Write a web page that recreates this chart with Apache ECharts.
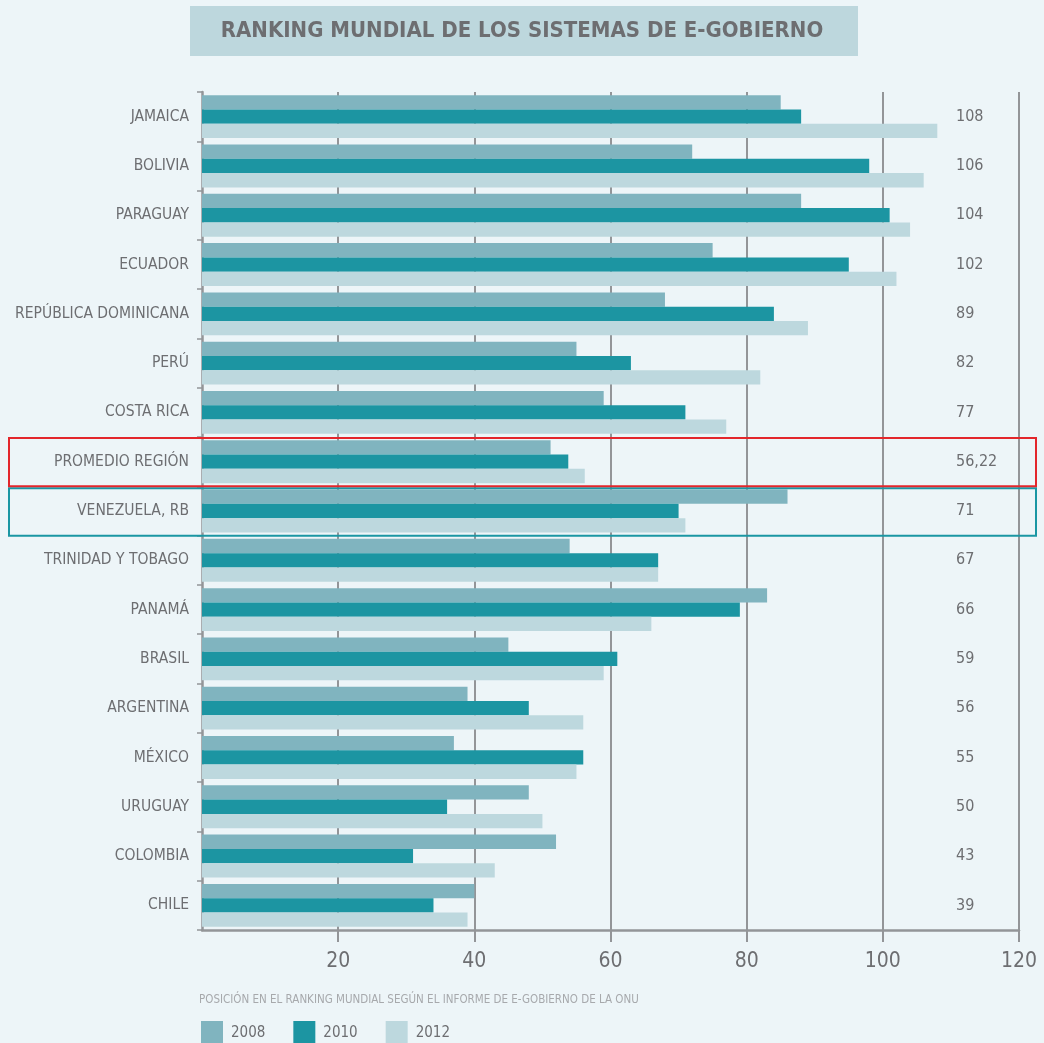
<!DOCTYPE html>
<html>
<head>
<meta charset="utf-8">
<title>Ranking mundial de los sistemas de e-gobierno</title>
<script src="https://cdn.jsdelivr.net/npm/echarts@6.0.0/dist/echarts.min.js"></script>
<style>
  html, body { margin: 0; padding: 0; background: #edf5f8; }
  #chart { width: 1044px; height: 1043px; }
</style>
</head>
<body>
<div id="chart"></div>
<script>
const categories = [
  'JAMAICA', 'BOLIVIA', 'PARAGUAY', 'ECUADOR', 'REPÚBLICA DOMINICANA', 'PERÚ',
  'COSTA RICA', 'PROMEDIO REGIÓN', 'VENEZUELA, RB', 'TRINIDAD Y TOBAGO', 'PANAMÁ',
  'BRASIL', 'ARGENTINA', 'MÉXICO', 'URUGUAY', 'COLOMBIA', 'CHILE'
]
const values2008 = [85, 72, 88, 75, 68, 55, 59, 51.2, 86, 54, 83, 45, 39, 37, 48, 52, 40]
const values2010 = [88, 98, 101, 95, 84, 63, 71, 53.8, 70, 67, 79, 61, 48, 56, 36, 31, 34]
const values2012 = [108, 106, 104, 102, 89, 82, 77, 56.22, 71, 67, 66, 59, 56, 55, 50, 43, 39]
const xTicks = [20, 40, 60, 80, 100, 120]
const seriesNames = ['2008', '2010', '2012']
const seriesColors = ['#80b4bf', '#1c95a2', '#bdd8de']

const gray = '#6d6e71'
const lineGray = '#939598'
const condensed = "'DejaVu Sans Condensed', sans-serif"

const chart = echarts.init(document.getElementById('chart'))

const option = {
  backgroundColor: '#edf5f8',
  animation: false,
  title: {
    text: 'RANKING MUNDIAL DE LOS SISTEMAS DE E-GOBIERNO',
    left: 'center',
    top: 15,
    z: 10,
    textStyle: { color: gray, fontFamily: condensed, fontWeight: 'bold', fontSize: 22 },
  },
  legend: {
    left: 196,
    top: 1016,
    itemWidth: 22,
    itemHeight: 24,
    itemGap: 28,
    icon: 'rect',
    textStyle: { color: gray, fontFamily: condensed, fontSize: 15, padding: [0, 0, 0, 3] },
    data: seriesNames,
  },
  grid: { left: 202, right: 25, top: 92, bottom: 113, outerBoundsMode: 'none' },
  xAxis: {
    type: 'value',
    min: 0,
    max: 120,
    interval: 20,
    axisLine: { show: true, lineStyle: { color: lineGray, width: 2.5 } },
    axisTick: { show: true, length: 12, customValues: xTicks, lineStyle: { color: lineGray, width: 2 } },
    axisLabel: { customValues: xTicks, color: gray, fontFamily: condensed, fontSize: 21, margin: 21 },
    splitLine: { show: true, lineStyle: { color: lineGray, width: 2 } },
  },
  yAxis: [
    {
      type: 'category',
      inverse: true,
      data: categories,
      axisLine: { show: true, lineStyle: { color: lineGray, width: 2.5 } },
      axisTick: { show: true, length: 5, interval: 0, lineStyle: { color: lineGray, width: 1.5 } },
      axisLabel: { color: gray, fontFamily: condensed, fontSize: 15.5, margin: 13, interval: 0 },
    },
    {
      type: 'category',
      inverse: true,
      position: 'right',
      data: values2012.map((v) => String(v).replace('.', ',')),
      axisLine: { show: false },
      axisTick: { show: false },
      axisLabel: {
        inside: true,
        align: 'left',
        margin: 63,
        interval: 0,
        color: gray,
        fontFamily: condensed,
        fontSize: 16,
      },
    },
  ],
  series: [values2008, values2010, values2012].map((data, i) => ({
    type: 'bar',
    name: seriesNames[i],
    data: data,
    barGap: 0,
    barCategoryGap: '13%',
    itemStyle: { color: seriesColors[i] },
  })),
}

chart.setOption(option)

// title box and highlight frames, placed from the category axis
const grid = chart.getModel().getComponent('grid').coordinateSystem.getRect()
const band = grid.height / categories.length
const bandTop = (name) => chart.convertToPixel({ yAxisIndex: 0 }, name) - band / 2

const redTop = bandTop('PROMEDIO REGIÓN')
const tealTop = bandTop('VENEZUELA, RB')

chart.setOption({
  graphic: [
    {
      type: 'rect',
      z: 0,
      shape: { x: 190, y: 6, width: 668, height: 50 },
      style: { fill: '#bdd7dd' },
    },
    {
      type: 'rect',
      z: 100,
      shape: { x: 9, y: tealTop + 2, width: 1027, height: band - 2 },
      style: { fill: 'none', stroke: '#1a96a3', lineWidth: 2 },
    },
    {
      type: 'rect',
      z: 101,
      shape: { x: 9, y: redTop + 1, width: 1027, height: band - 1 },
      style: { fill: 'none', stroke: '#e3262b', lineWidth: 2 },
    },
    {
      type: 'text',
      left: 199,
      top: 994,
      style: {
        text: 'POSICIÓN EN EL RANKING MUNDIAL SEGÚN EL INFORME DE E-GOBIERNO DE LA ONU',
        fill: '#a7a9ac',
        font: "11.5px 'DejaVu Sans Condensed', sans-serif",
      },
    },
  ],
})

window.addEventListener('resize', () => chart.resize())
</script>
</body>
</html>
